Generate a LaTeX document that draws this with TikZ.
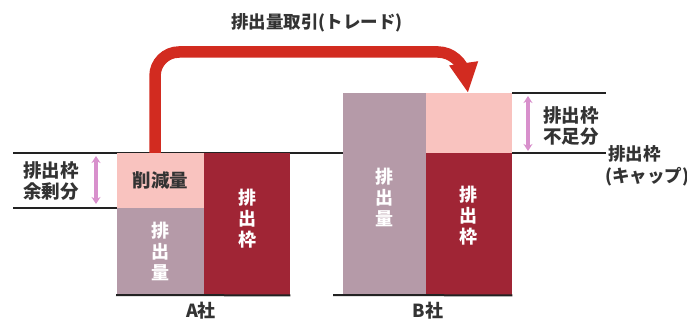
\documentclass[tikz,border=0pt]{standalone}
\usepackage{fontspec}
\newfontfamily\jp{Noto Sans CJK JP}
\usetikzlibrary{arrows.meta}
\definecolor{pinkc}{HTML}{F9C3BF}
\definecolor{mauvec}{HTML}{B59AA8}
\definecolor{darkredc}{HTML}{A02535}
\definecolor{arrowred}{HTML}{D22B20}
\definecolor{orchidc}{HTML}{D890CC}
\definecolor{txtc}{HTML}{333333}
\definecolor{linec}{HTML}{222222}
\begin{document}
\begin{tikzpicture}[x=1pt,y=-1pt,
  box/.style={draw=none,inner sep=0pt,anchor=north west},
  lbl/.style={font=\jp\bfseries\fontsize{18.5}{21.5}\selectfont,text=txtc,align=center,inner sep=0pt},
  vlbl/.style={font=\jp\bfseries\fontsize{18}{21}\selectfont,text=white,align=center,inner sep=0pt},
  rule/.style={draw=linec,line width=2pt},
  gap/.style={draw=orchidc,line width=3.5pt,{Stealth[length=7pt,width=9pt]}-{Stealth[length=7pt,width=9pt]}},
  trade/.style={draw=arrowred,line width=11.5pt,rounded corners=24pt,-{Triangle[length=30pt,width=27pt]}}
]
\useasboundingbox (0,0) rectangle (687,323);
% rules
\coordinate (capL) at (13,153);
\coordinate (capR) at (606,153);
\coordinate (surL) at (13,208);
\coordinate (topR) at (606,93);
\draw[rule] (capL) -- (capR);
% A company boxes
\node[box,fill=pinkc,minimum width=87pt,minimum height=55pt] (apink) at (117,153) {};
\node[box,fill=mauvec,minimum width=87pt,minimum height=87pt] (agray) at (117,208) {};
\node[box,fill=darkredc,minimum width=86pt,minimum height=142pt] (ared) at (204,153) {};
% B company boxes
\node[box,fill=mauvec,minimum width=83pt,minimum height=202pt] (bgray) at (343,93) {};
\node[box,fill=pinkc,minimum width=86pt,minimum height=60pt] (bpink) at (426,93) {};
\node[box,fill=darkredc,minimum width=86pt,minimum height=142pt] (bred) at (426,153) {};
% other rules
\draw[rule] (surL) -- (agray.north west);
\draw[rule] (bpink.north east) -- (topR);
\coordinate (aBaseL) at (116,295);
\coordinate (bBaseL) at (333,295);
\draw[rule] (aBaseL) -- (ared.south east);
\draw[rule] (bBaseL) -- (bred.south east);
% box labels
\node[lbl] (cut) at (apink.center) {削減量};
\node[vlbl] (aemit) at (160,251) {排\\出\\量};
\node[vlbl] (acap) at (247,219) {排\\出\\枠};
\node[vlbl] (bemit) at (384,197) {排\\出\\量};
\node[vlbl] (bcap) at (468,216) {排\\出\\枠};
% gap arrows
\coordinate (ga1) at (96,156);
\coordinate (ga2) at (96,204);
\coordinate (gb1) at (528,96);
\coordinate (gb2) at (528,151);
\draw[gap] (ga1) -- (ga2);
\draw[gap] (gb1) -- (gb2);
% side labels
\node[lbl] (surplus) at (51,181) {排出枠\\余剰分};
\node[lbl] (short) at (571,126) {排出枠\\不足分};
\node[lbl,align=left,anchor=west,font=\jp\bfseries\fontsize{17.5}{21.5}\selectfont] (caplbl) at (605,166) {\,排出枠\\(キャップ)};
% company labels
\node[lbl,font=\jp\bfseries\fontsize{18}{20}\selectfont] (aname) at (201,311) {A社};
\node[lbl,font=\jp\bfseries\fontsize{18}{20}\selectfont] (bname) at (428,311) {B社};
% trade arrow
\coordinate (tstart) at (155,153);
\coordinate (tc1) at (155,52);
\coordinate (tc2) at (462,52);
\draw[trade] (tstart) -- (tc1) -- (tc2) -- (bpink.north -| 468,0);
\node[lbl,font=\jp\bfseries\fontsize{17.5}{20}\selectfont] (title) at (317,23) {排出量取引(トレード)};
\end{tikzpicture}
\end{document}
